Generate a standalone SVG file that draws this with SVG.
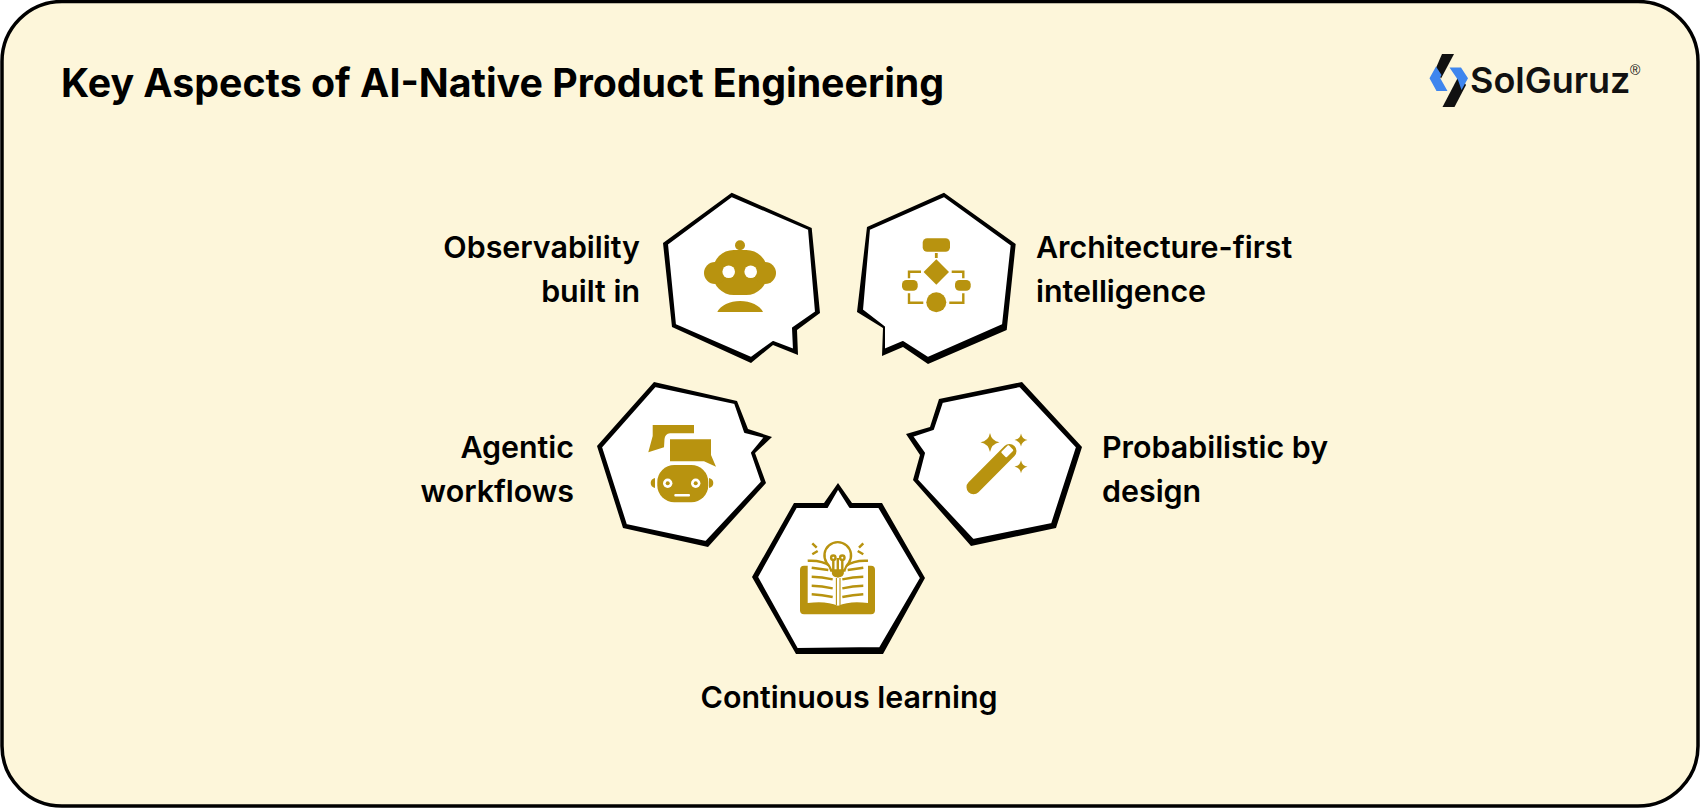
<svg xmlns="http://www.w3.org/2000/svg" width="1700" height="808" viewBox="0 0 1700 808">
<style>
.o{fill:#000}.w{fill:#fff}.h{fill:#fff;stroke:#000;stroke-width:2;stroke-linejoin:round}.g{fill:#b8930f}.gs{fill:none;stroke:#b8930f;stroke-width:2.4}
.t{font-family:"Inter","Liberation Sans",sans-serif;font-weight:600;font-size:30.4px;fill:#000}
.e{text-anchor:end}
</style>
<rect x="2" y="1.5" width="1696" height="804.5" rx="60" fill="#fdf6da" stroke="#000" stroke-width="3.5"/>
<text x="61" y="97" font-family="Inter,'Liberation Sans',sans-serif" font-weight="700" font-size="39.3" fill="#000">Key Aspects of AI-Native Product Engineering</text>
<g id="logo">
<polygon points="1442,54 1454,54 1441,78.5 1435.5,69" fill="#111"/>
<polygon points="1436,66.5 1429.5,78.3 1436.5,91 1447.5,91 1440,77.7 1441.5,75" fill="#3f86ee"/>
<polygon points="1442.5,107 1454.5,107 1466,85 1459.5,74.5" fill="#111"/>
<polygon points="1449.5,67.5 1461,67.5 1468,78.3 1461.5,90 1458,80" fill="#3f86ee"/>
<text x="1470" y="93" font-family="Inter,'Liberation Sans',sans-serif" font-weight="600" font-size="36" fill="#111">SolGuruz</text>
<text x="1630" y="75" font-family="'Liberation Sans',sans-serif" font-size="14" fill="#111">®</text>
</g>
<g id="observability">
<polygon class="o" points="731.7,192.7 811.7,228 820,313 797,330 798,355 773,345 751,363 672,327 663,243"/>
<polygon class="h" points="731.7,196 809,229 816,312 793,328 794,350 773,342 751,358 675,325 667,244"/>
<circle class="g" cx="740" cy="245.3" r="5"/>
<rect class="g" x="712.7" y="250" width="54.6" height="45" rx="21"/>
<circle class="g" cx="715" cy="273" r="11"/><circle class="g" cx="765" cy="273" r="11"/>
<circle class="w" cx="728.7" cy="271.7" r="6.3"/><circle class="w" cx="750.7" cy="271.7" r="6.3"/>
<path class="g" d="M717.3 312A24 16 0 0 1 763 312Z"/>
<text class="t e" x="640" y="258">Observability</text>
<text class="t e" x="640" y="302">built in</text>
</g>
<g id="architecture">
<polygon class="o" points="944,192.7 1015.7,244 1006.7,330 928,364 903,347 882,356 883,328 857,312 867,227"/>
<polygon class="h" points="944,196 1011.7,245 1003,325 928,358 903,342 884,350 884,327 862,310 869,229"/>
<rect class="g" x="922.7" y="238.3" width="27.3" height="13.4" rx="4.5"/>
<rect class="g" x="934.9" y="253" width="2.8" height="5"/>
<polygon class="g" points="936.3,259.3 949,272 936.3,284.7 923.6,272"/>
<rect class="g" x="902" y="280" width="15.7" height="10.7" rx="4.5"/>
<rect class="g" x="955" y="280" width="15.7" height="10.7" rx="4.5"/>
<circle class="g" cx="936.3" cy="302.3" r="10"/>
<path class="gs" d="M921 271.7H909V278.3M951.7 271.7H963.3V278.3M909 293.3V302.7H923.3M963.3 293.3V302.7H949.3"/>
<text class="t" x="1036" y="258">Architecture-first</text>
<text class="t" x="1036" y="302">intelligence</text>
</g>
<g id="agentic">
<polygon class="o" points="654,382 737,401 748,429 772,437 755,453 766,483 708,547 623,528 597,446"/>
<polygon class="h" points="655,386 735,403 745,432 765,437 752,453 762,482 706,542 626,525 601,447"/>
<path class="g" d="M652.7 425H694V433.3H670Q665 434 664.5 439L664 447.3L648.3 452.3L652.7 436Z"/>
<path class="g" d="M670 439.3H711V455L716 466.7L704 461.3H670Z"/>
<rect class="g" x="657.3" y="465" width="51" height="37.3" rx="17"/>
<path class="g" d="M655 478Q650.7 479 650.7 483T655 488ZM709 478Q713.3 479 713.3 483T709 488Z"/>
<circle class="w" cx="667.7" cy="483.3" r="4.7"/><circle class="w" cx="695.7" cy="483.3" r="4.7"/>
<circle class="g" cx="667.7" cy="483.3" r="2"/><circle class="g" cx="695.7" cy="483.3" r="2"/>
<rect class="w" x="674.3" y="494" width="15.7" height="2.4" rx="1"/>
<text class="t e" x="574" y="458">Agentic</text>
<text class="t e" x="574" y="502">workflows</text>
</g>
<g id="probabilistic">
<polygon class="o" points="1022,382 1082,447 1056,528 971,546 913,480 920,455 906,434 930,427 939,399"/>
<polygon class="h" points="1020,386 1077,447 1052,524 973,540 917,480 924,453 912,436 933,429 942,402"/>
<path d="M973.5 487.3L1009.5 451" stroke="#b8930f" stroke-width="14" stroke-linecap="round" fill="none"/>
<rect class="w" x="1003.5" y="446" width="7.5" height="10.5" rx="1" transform="rotate(45 1007.3 451.3)"/>
<path class="g" d="M990 433Q991.5 441 999.5 442.3Q991.5 444 990 452Q988.5 444 980.5 442.3Q988.5 441 990 433Z"/>
<path class="g" d="M1021 433.5Q1022 439 1027.5 440Q1022 441 1021 446.5Q1020 441 1014.5 440Q1020 439 1021 433.5Z"/>
<path class="g" d="M1021 460.2Q1022 465.7 1027.5 466.7Q1022 467.7 1021 473.2Q1020 467.7 1014.5 466.7Q1020 465.7 1021 460.2Z"/>
<text class="t" x="1102" y="458">Probabilistic by</text>
<text class="t" x="1102" y="502">design</text>
</g>
<g id="continuous">
<polygon class="o" points="838,483 852,503 882,503 925,578 883,654 796,654 752,577 794,503 824,503"/>
<polygon class="h" points="838,488 850,507 879,507 921,578 880,648 797,649 757,577 796,507 827,507"/>
<rect class="g" x="800" y="565.7" width="75" height="48.6" rx="4"/>
<path class="w" d="M807.7 560Q828 559 838 578V605.7Q826 600.5 807.7 603Z"/>
<path class="w" d="M868 560Q848 559 838 578V605.7Q850 600.5 868 603Z"/>
<path class="gs" d="M807.7 560.8Q822 560 830 566M868 560.8Q854 560 846 566"/>
<path d="M836.4 578V605M840 578V605" stroke="#b8930f" stroke-width="1.1" fill="none"/>
<path class="gs" d="M811.7 567.7L828.3 570M811.7 576.7Q822 577 832.7 579.3M811.7 585.7Q822 586 832.7 588.3M811.7 594.3Q822 595 832.7 597M847.7 570L863.3 567.7M842.3 579.3Q853 577 863.3 576.7M842.3 588.3Q853 586 863.3 585.7M842.3 597Q853 595 863.3 594.3"/>
<path d="M831.2 570.5Q829.5 565.5 826.5 562.5A13.3 13.3 0 1 1 849 562.5Q846 565.5 844.5 570.5Z" fill="#fff" stroke="#b8930f" stroke-width="2.4"/>
<path class="g" d="M831.7 570.5H844Q844.5 577.5 837.8 577.5Q831.2 577.5 831.7 570.5Z"/>
<circle class="gs" cx="833.3" cy="557.7" r="2.2"/><circle class="gs" cx="842.3" cy="557.7" r="2.2"/>
<path class="gs" d="M833.3 560V571M842.3 560V571M837.8 558V571"/>
<path class="gs" d="M812.3 543.3L816.7 547.7M812.3 554.3L817.7 551M863.3 543.3L859 547.7M863.3 554.3L857.7 551"/>
<text class="t" x="849" y="708" text-anchor="middle">Continuous learning</text>
</g>
<g id="connectors"></g>
</svg>
